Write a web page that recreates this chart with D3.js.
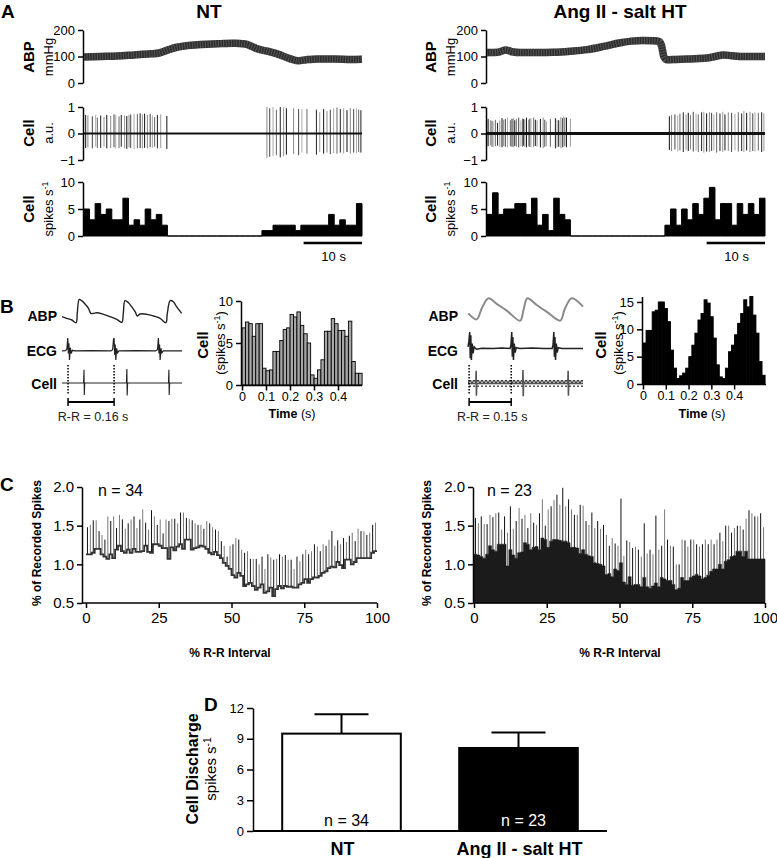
<!DOCTYPE html>
<html><head><meta charset="utf-8">
<script src="https://cdn.jsdelivr.net/npm/d3@7"></script>
<style>
body{margin:0;background:#fff;}
</style></head><body>
<svg id="fig" width="777" height="858" xmlns="http://www.w3.org/2000/svg"></svg>
<script>
// ================= DATA =================
// Panel A - arterial blood pressure trend (time s, mmHg)
const abpTimeNT = [0,3,6,9,12,13.5,15,16.5,18.5,21,24,27,29,30.2,31,33,35,37,38.5,40,42,45,48,50];
const abpNT     = [98,100,102,106,110,113,124,134,141,145,148,150,147,138,130,120,108,92,84,88,91,91,89,90];
const abpTimeHT = [0,2,3.3,4.5,6,9,12,15,18,21,24,26,28,30,31,31.4,31.8,32.3,34,36.5,39.5,41,42.5,44,46,48,50];
const abpHT     = [115,116,125,118,115,115,116,120,126,138,152,158,160,159,156,140,100,88,89,91,94,100,106,103,100,100,100];
// Panel A - single unit spikes [time s, up a.u., down a.u.]
const cellSpikesNT = [
 [0.3,0.70,-0.55],[0.7,0.68,-0.52],[1.5,0.65,-0.56],[2.1,0.70,-0.50],[2.4,0.60,-0.55],[3.0,0.68,-0.54],[3.6,0.62,-0.50],
 [4.1,0.70,-0.56],[4.8,0.66,-0.55],[5.4,0.72,-0.52],[5.7,0.70,-0.57],[6.3,0.65,-0.55],[6.7,0.70,-0.50],[7.3,0.68,-0.56],
 [7.7,0.66,-0.58],[8.1,0.70,-0.52],[8.4,0.72,-0.55],[9.0,0.75,-0.58],[9.6,0.74,-0.56],[10.1,0.76,-0.55],[10.5,0.72,-0.57],
 [10.9,0.75,-0.54],[11.4,0.70,-0.56],[11.9,0.74,-0.52],[12.3,0.68,-0.55],[12.7,0.62,-0.50],[13.2,0.70,-0.56],[13.8,0.72,-0.55],[14.9,0.66,-0.58],
 [32.9,1.00,-0.92],[33.4,0.95,-0.88],[34.0,1.00,-0.85],[34.6,0.90,-0.82],[35.3,1.00,-0.90],[35.9,0.98,-0.86],[36.4,0.95,-0.80],
 [37.7,0.95,-0.78],[38.6,0.92,-0.82],[39.2,0.92,-0.72],[40.1,0.92,-0.76],[41.8,0.90,-0.80],[42.4,0.80,-0.70],[43.1,0.92,-0.76],
 [43.7,0.85,-0.72],[44.3,0.90,-0.78],[44.9,0.95,-0.74],[45.5,0.98,-0.76],[46.1,0.92,-0.72],[46.7,0.95,-0.75],[47.3,0.88,-0.70],
 [47.9,0.95,-0.76],[48.5,0.92,-0.72],[49.0,0.95,-0.74],[49.4,0.90,-0.70],[49.8,0.88,-0.72]
];
const cellSpikesHT = [
 [0.2,0.55,-0.48],[0.6,0.50,-0.45],[0.9,0.48,-0.50],[1.1,0.45,-0.52],[1.5,0.52,-0.48],[1.9,0.40,-0.46],[2.3,0.50,-0.50],[2.7,0.58,-0.52],
 [3.0,0.52,-0.47],[3.3,0.55,-0.50],[3.7,0.60,-0.52],[4.2,0.50,-0.48],[4.5,0.56,-0.50],[4.8,0.58,-0.53],[5.0,0.50,-0.47],[5.3,0.55,-0.50],
 [5.7,0.60,-0.52],[6.1,0.50,-0.48],[6.4,0.56,-0.50],[6.6,0.55,-0.46],[6.8,0.52,-0.50],[7.1,0.60,-0.52],[7.5,0.52,-0.49],[7.7,0.56,-0.50],
 [7.9,0.58,-0.52],[8.4,0.60,-0.50],[8.7,0.52,-0.47],[9.0,0.50,-0.50],[9.6,0.55,-0.52],[10.1,0.60,-0.55],[10.4,0.52,-0.50],[10.7,0.45,-0.48],
 [11.4,0.55,-0.50],[12.3,0.58,-0.56],[12.6,0.52,-0.52],[12.9,0.50,-0.50],[13.3,0.62,-0.55],[13.6,0.58,-0.52],[13.8,0.65,-0.50],[14.0,0.60,-0.48],
 [14.3,0.60,-0.52],[15.0,0.55,-0.50],
 [32.8,0.65,-0.62],[33.2,0.70,-0.66],[33.8,0.72,-0.60],[34.3,0.68,-0.68],[34.7,0.75,-0.64],[35.3,0.80,-0.70],[35.8,0.72,-0.62],[36.2,0.78,-0.66],
 [36.6,0.70,-0.60],[37.1,0.82,-0.68],[37.6,0.75,-0.64],[38.0,0.72,-0.70],[38.6,0.80,-0.66],[39.0,0.82,-0.72],[39.5,0.76,-0.68],[40.0,0.80,-0.70],
 [40.4,0.78,-0.66],[40.8,0.72,-0.64],[41.3,0.80,-0.72],[41.9,0.76,-0.66],[42.4,0.82,-0.70],[42.8,0.72,-0.64],[43.4,0.80,-0.66],[44.0,0.78,-0.70],
 [44.6,0.74,-0.64],[45.2,0.80,-0.68],[45.8,0.76,-0.66],[46.2,0.85,-0.70],[46.7,0.78,-0.64],[47.3,0.82,-0.70],[47.8,0.76,-0.66],[48.2,0.80,-0.68],
 [48.8,0.78,-0.64],[49.4,0.80,-0.70],[49.8,0.76,-0.66]
];
// Panel A - firing rate histograms (1-s bins, spikes/s)
const histNT = [5,3,6,4,5,3,3,7,2,3,2,5,3,4,2,0,0,0,0,0,0,0,0,0,0,0,0,0,0,0,0,0,1,1,2,2,2,2,1,2,2,2,2,2,4,2,3,2,2,6];
const histHT = [4,8,4,5,5,6,6,4,7,2,4,1,7,4,3,0,0,0,0,0,0,0,0,0,0,0,0,0,0,0,0,0,2,5,2,5,3,6,4,7,9,3,6,6,2,6,4,6,4,7];

// Panel B - raw traces (time s)
const bAbpNT = [[0,95.8],[0.016,91.7],[0.034,87.5],[0.049,80.8],[0.053,104],[0.060,139],[0.068,135.8],[0.080,127.5],[0.092,116.7],[0.100,104],
 [0.109,104],[0.121,105.8],[0.144,101.7],[0.167,95.8],[0.190,89.2],[0.208,81.7],[0.213,104],[0.219,135.8],[0.231,130.8],[0.242,120.8],
 [0.254,108.3],[0.262,97.5],[0.271,102.5],[0.295,101.7],[0.318,97.5],[0.341,91.7],[0.361,80.8],[0.366,104],[0.376,135.8],[0.387,133.3],
 [0.398,120.8],[0.416,104]];
const bEcgNT = [[0,0],[0.012,0.02],[0.017,0.15],[0.020,1.0],[0.022,-0.2],[0.024,0.6],[0.026,-0.7],[0.029,0.25],[0.032,-0.2],[0.036,0.05],
 [0.045,0],[0.10,0.02],[0.17,0],[0.176,0.1],[0.179,0.9],[0.181,1.0],[0.183,-0.3],[0.185,0.5],[0.187,-0.7],[0.190,0.2],[0.193,-0.15],
 [0.198,0],[0.26,0.02],[0.325,0],[0.332,0.1],[0.335,1.0],[0.337,-0.2],[0.339,0.5],[0.341,-0.7],[0.344,0.2],[0.347,-0.15],[0.352,0],[0.417,0]];
const bCellNT = [[0,0],[0.075,0],[0.0765,0.95],[0.0775,-0.85],[0.079,0],[0.224,0],[0.2255,1.0],[0.2265,-0.9],[0.228,0],
 [0.370,0],[0.3715,0.95],[0.3725,-0.85],[0.374,0],[0.417,0]];
const bAbpHT = [[0.001,104],[0.031,89],[0.05,118],[0.073,142],[0.102,128],[0.138,111],[0.186,86],[0.198,113],[0.212,142],[0.245,125],
 [0.281,108],[0.329,86],[0.345,115],[0.37,142],[0.41,121]];
const bEcgHT = [[0,0.1],[0.003,0.4],[0.006,1.0],[0.008,-0.6],[0.010,0.8],[0.012,-0.7],[0.015,0.3],[0.018,-0.3],[0.022,0.1],[0.03,-0.05],
 [0.05,0.02],[0.09,0],[0.12,0.03],[0.15,0],[0.153,0.2],[0.156,1.0],[0.158,-0.5],[0.160,0.7],[0.162,-0.7],[0.165,0.3],[0.168,-0.25],
 [0.172,0.05],[0.185,0],[0.23,0.03],[0.27,0],[0.30,0],[0.303,0.2],[0.306,1.0],[0.308,-0.5],[0.310,0.7],[0.312,-0.7],[0.315,0.3],
 [0.318,-0.25],[0.322,0.05],[0.335,0],[0.41,0]];
const bCellHT = [[0,0],[0.028,0],[0.029,0.95],[0.030,-0.9],[0.031,0],[0.195,0],[0.196,1.0],[0.197,-0.95],[0.198,0],
 [0.356,0],[0.357,0.95],[0.358,-0.9],[0.359,0],[0.41,0]];
const rrNT = [0.021, 0.181];
const rrHT = [0.004, 0.154];
const rrLabels = ["R-R = 0.16 s", "R-R = 0.15 s"];
// Panel B - cardiac-cycle triggered histograms (spikes/s)
const bHistNT = [6.8,7.5,7.3,5.8,7.3,7.3,2.0,1.7,1.8,4.0,4.0,5.3,6.6,6.8,8.4,8.1,8.7,7.1,6.1,5.0,1.2,0.8,1.8,3.0,6.4,6.4,7.9,7.3,6.5,6.5,5.8,7.6,2.8,1.4,1.4];
const bHistNTBin = 0.0143;
const bHistHT = [7.5,9.8,9.8,13.2,13.5,15.0,15.0,13.8,11.4,6.2,2.9,1.0,1.5,2.0,2.9,5.0,7.1,9.3,11.7,12.9,15.4,14.8,12.3,8.4,3.5,1.3,1.0,2.9,5.9,7.1,9.0,11.1,12.9,15.4,14.1,16.0,12.6,9.3,4.1,1.6];
const bHistHTBin = 0.0134;
const timeTicks = [0,0.1,0.2,0.3,0.4];

// Panel C - % of recorded spikes per 1% R-R bin (mean and mean+SEM)
const cMeanNT = [1.13,1.13,1.15,1.20,1.20,1.13,1.10,1.07,1.13,1.08,1.19,1.24,1.17,1.15,1.19,1.15,1.20,1.16,1.16,1.17,
 1.24,1.16,1.15,1.26,1.26,1.24,1.21,1.21,1.07,1.22,1.18,1.23,1.26,1.20,1.32,1.32,1.19,1.21,1.22,1.24,
 1.23,1.20,1.15,1.13,1.16,1.12,1.08,1.02,0.98,0.94,0.86,0.83,0.89,0.85,0.72,0.74,0.76,0.72,0.67,0.70,
 0.74,0.63,0.65,0.70,0.59,0.68,0.72,0.69,0.72,0.71,0.71,0.70,0.70,0.74,0.76,0.81,0.76,0.81,0.83,0.83,
 0.85,0.89,0.91,0.95,0.97,0.96,1.03,0.99,0.95,1.06,1.06,1.00,1.03,1.08,1.08,1.08,1.08,1.08,1.15,1.17];
const cTopNT = [1.48,1.51,1.57,1.57,1.43,1.38,1.32,1.62,1.56,1.62,1.47,1.64,1.58,1.46,1.53,1.58,1.62,1.47,1.58,1.71,
 1.54,1.45,1.70,1.62,1.51,1.58,1.40,1.58,1.56,1.59,1.59,1.53,1.67,1.67,1.60,1.59,1.57,1.53,1.51,1.51,
 1.46,1.56,1.53,1.48,1.45,1.43,1.30,1.24,1.10,1.24,1.26,1.34,1.32,1.19,1.15,1.17,1.07,1.07,1.07,1.00,
 1.10,0.94,1.13,1.09,1.06,1.07,1.13,1.10,1.12,1.06,1.06,0.94,1.10,1.04,1.13,1.19,1.13,1.17,1.26,1.23,
 1.17,1.26,1.24,1.32,1.43,1.24,1.31,1.26,1.34,1.29,1.37,1.41,1.30,1.46,1.43,1.43,1.38,1.41,1.51,1.54];
const cMeanHT = [1.13,1.12,1.10,1.08,1.13,1.24,1.19,1.17,1.26,1.26,1.26,0.98,1.19,1.12,1.08,1.15,1.16,1.28,1.26,1.19,
 1.22,1.23,1.19,1.34,1.32,1.22,1.30,1.32,1.32,1.31,1.30,1.30,1.28,1.22,1.22,1.21,1.14,1.19,1.13,1.11,
 1.10,1.02,1.01,1.00,0.98,0.87,0.88,0.84,0.94,0.92,1.02,0.77,0.74,0.84,0.73,0.74,0.74,0.71,0.83,0.71,
 0.69,0.72,0.76,0.71,0.83,0.81,0.79,0.79,0.74,0.67,0.69,0.83,0.79,0.79,0.83,0.85,0.87,0.85,0.81,0.83,
 0.86,0.91,0.94,0.94,1.00,0.94,1.04,1.06,1.10,1.11,1.17,1.17,1.10,1.17,1.07,1.07,1.07,1.07,1.07,1.07];
const cTopHT = [1.60,1.53,1.62,1.52,1.52,1.64,1.61,1.66,1.67,1.45,1.62,1.41,1.75,1.46,1.56,1.73,1.59,1.64,1.47,1.66,
 1.54,1.51,1.66,1.84,1.50,1.71,1.75,1.83,1.90,1.77,1.99,1.75,1.84,1.71,1.64,1.64,1.77,1.76,1.56,1.51,
 1.67,1.47,1.56,1.46,1.51,1.38,1.24,1.34,1.27,1.24,1.85,1.11,1.31,1.29,1.21,1.23,1.19,1.10,1.53,1.14,
 1.19,1.13,1.63,1.19,1.24,1.71,1.32,1.24,1.23,1.00,1.00,1.32,1.31,1.23,1.32,1.32,1.26,1.23,1.26,1.32,
 1.26,1.32,1.26,1.32,1.41,1.30,1.50,1.50,1.41,1.47,1.50,1.50,1.45,1.59,1.70,1.66,1.62,1.62,1.66,1.48];
const cN = ["n = 34", "n = 23"];
const cTicksY = [0.5,1.0,1.5,2.0];
const cTicksX = [0,25,50,75,100];

// Panel D - mean cell discharge
const dGroups = ["NT", "Ang II - salt HT"];
const dMean = [9.5, 8.1];
const dSem  = [1.9, 1.5];
const dN = ["n = 34", "n = 23"];
const dTicks = [0,3,6,9,12];

// ================= DRAWING =================
const FONT = "Arial, 'Liberation Sans', Helvetica, sans-serif";
const svg = d3.select("#fig");
const defs = svg.append("defs");
const pat = defs.append("pattern").attr("id","zig").attr("width",4).attr("height",7).attr("patternUnits","userSpaceOnUse");
pat.append("path").attr("d","M0,6 L2,1 L4,6").attr("stroke","#333").attr("stroke-width",1.2).attr("fill","none");

function addText(g, x, y, s, size, o = {}) {
  const t = g.append("text").attr("x", x).attr("y", y).attr("font-size", size)
    .attr("font-family", FONT).attr("fill", o.fill || "#000").attr("text-anchor", o.anchor || "start");
  if (o.bold) t.attr("font-weight", "bold");
  t.text(s);
  return t;
}
function rotLabel(g, cx, cy, parts, size) {
  const t = g.append("text").attr("transform", `translate(${cx},${cy}) rotate(-90)`)
    .attr("text-anchor", "middle").attr("dy", "0.35em").attr("font-size", size).attr("font-family", FONT);
  parts.forEach(p => {
    const s = t.append("tspan").text(p.t);
    if (p.bold) s.attr("font-weight", "bold");
    if (p.sup) s.attr("baseline-shift", "super").attr("font-size", size * 0.68);
  });
  return t;
}
function styleAxis(a, size) {
  a.select(".domain").attr("stroke", "#000").attr("stroke-width", 1.5);
  a.selectAll(".tick line").attr("stroke", "#000").attr("stroke-width", 1.5);
  a.selectAll(".tick text").attr("font-size", size).attr("font-family", FONT).attr("fill", "#000");
}
function yAxis(g, scale, x, ticks, size, fmt, tsz = 5) {
  const ax = d3.axisLeft(scale).tickValues(ticks).tickSize(tsz).tickSizeOuter(0).tickPadding(3);
  if (fmt) ax.tickFormat(fmt);
  const a = g.append("g").attr("transform", `translate(${x},0)`).call(ax);
  styleAxis(a, size);
  return a;
}
function xAxis(g, scale, y, ticks, size, fmt, x0, pad = 4) {
  const ax = d3.axisBottom(scale).tickValues(ticks).tickSize(5).tickSizeOuter(0).tickPadding(pad);
  if (fmt) ax.tickFormat(fmt);
  const a = g.append("g").attr("transform", `translate(0,${y})`).call(ax);
  styleAxis(a, size);
  if (x0 !== undefined) {
    a.select(".domain").remove();
    g.append("line").attr("x1", x0).attr("x2", scale.range()[1]).attr("y1", y).attr("y2", y)
      .attr("stroke", "#000").attr("stroke-width", 1.5);
  }
  return a;
}
const spikeShades = ["#111", "#888", "#444", "#aaa", "#666", "#222", "#999"];

// ---------- Panel A ----------
addText(svg, 1, 18, "A", 19, {bold: true});
const panelsA = [
  {x0: 83, x1: 362, l1: 29, l2: 48, abpT: abpTimeNT, abp: abpNT, spikes: cellSpikesNT, hist: histNT, title: "NT", tx: 209, base: 2},
  {x0: 486, x1: 765, l1: 431, l2: 450, abpT: abpTimeHT, abp: abpHT, spikes: cellSpikesHT, hist: histHT, title: "Ang II - salt HT", tx: 620, base: 3.2}
];
panelsA.forEach(p => {
  const g = svg.append("g");
  const ts = d3.scaleLinear().domain([0, 50]).range([p.x0 + 1, p.x1]);
  const yA = d3.scaleLinear().domain([0, 200]).range([83, 30]);
  const yC = d3.scaleLinear().domain([-1, 1]).range([160, 107]);
  const yH = d3.scaleLinear().domain([0, 10]).range([236, 182]);
  addText(g, p.tx, 18, p.title, 19, {bold: true, anchor: "middle"});
  // ABP band
  const abpPts = p.abpT.map((t, i) => [t, p.abp[i]]);
  const ln = d3.line().x(d => ts(d[0])).y(d => yA(d[1])).curve(d3.curveMonotoneX);
  g.append("path").datum(abpPts).attr("d", ln).attr("fill", "none").attr("stroke", "#2e2e2e").attr("stroke-width", 7.5);
  g.append("path").datum(abpPts).attr("d", ln).attr("fill", "none").attr("stroke", "#777")
    .attr("stroke-width", 7.5).attr("stroke-dasharray", "1,1.6").attr("opacity", 0.55);
  yAxis(g, yA, p.x0, [0, 100, 200], 13);
  rotLabel(g, p.l1, 57, [{t: "ABP", bold: true}], 15);
  rotLabel(g, p.l2, 57, [{t: "mmHg"}], 13);
  // Cell raw trace
  g.selectAll(".spk").data(p.spikes).enter().append("line")
    .attr("x1", d => ts(d[0])).attr("x2", d => ts(d[0]))
    .attr("y1", d => yC(d[2])).attr("y2", d => yC(d[1]))
    .attr("stroke", (d, i) => spikeShades[i % spikeShades.length]).attr("stroke-width", 1);
  g.append("line").attr("x1", ts(0)).attr("x2", ts(50)).attr("y1", yC(0)).attr("y2", yC(0))
    .attr("stroke", "#111").attr("stroke-width", p.base);
  yAxis(g, yC, p.x0, [-1, 0, 1], 13, d => d3.format("d")(d));
  rotLabel(g, p.l1, 133, [{t: "Cell", bold: true}], 15);
  rotLabel(g, p.l2, 133, [{t: "a.u."}], 13);
  // Histogram
  const hp = p.hist.map((v, i) => [i, v]).concat([[p.hist.length, p.hist[p.hist.length - 1]]]);
  g.append("path").datum(hp)
    .attr("d", d3.area().x(d => ts(d[0])).y0(yH(0)).y1(d => yH(d[1])).curve(d3.curveStepAfter))
    .attr("fill", "#000").attr("stroke", "#000").attr("stroke-width", 1);
  yAxis(g, yH, p.x0, [0, 5, 10], 13);
  rotLabel(g, p.l1, 209, [{t: "Cell", bold: true}], 15);
  rotLabel(g, p.l2, 209, [{t: "spikes  s"}, {t: "-1", sup: true}], 13);
  // scale bar
  g.append("line").attr("x1", ts(39.5)).attr("x2", ts(50)).attr("y1", 243).attr("y2", 243)
    .attr("stroke", "#000").attr("stroke-width", 2.5);
  addText(g, ts(44.9), 261, "10 s", 13, {anchor: "middle"});
});

// ---------- Panel B ----------
addText(svg, 0, 313, "B", 19, {bold: true});
const panelsB = [
  {tx0: 62, tx1: 182, td: 0.417, lblX: 57, abp: bAbpNT, abpCol: "#222", ecg: bEcgNT, ecgY: [360, 338], cell: bCellNT,
   cellY: [397, 369], rr: rrNT, rrLbl: rrLabels[0], noise: false,
   hist: bHistNT, bin: bHistNTBin, hx0: 242, hx1: 362, hd: 0.5, hy: [385, 301], hmax: 10, hticks: [0, 5, 10],
   hfill: "#a6a6a6", hstroke: "#000", axX: 241, l1: 203, l2: 220, ttl: 292},
  {tx0: 468, tx1: 583, td: 0.41, lblX: 458, abp: bAbpHT, abpCol: "#8a8a8a", ecg: bEcgHT, ecgY: [360, 332], cell: bCellHT,
   cellY: [397, 370], rr: rrHT, rrLbl: rrLabels[1], noise: true,
   hist: bHistHT, bin: bHistHTBin, hx0: 643, hx1: 766, hd: 0.54, hy: [384, 296.5], hmax: 16, hticks: [0, 5, 10, 15],
   hfill: "#000", hstroke: "#000", axX: 642, l1: 601, l2: 618, ttl: 702}
];
panelsB.forEach(p => {
  const g = svg.append("g");
  const ts = d3.scaleLinear().domain([0, p.td]).range([p.tx0, p.tx1]);
  const yAbp = d3.scaleLinear().domain([80, 140]).range([323, 299]);
  const yEcg = d3.scaleLinear().domain([-0.7, 1]).range(p.ecgY);
  const yCell = d3.scaleLinear().domain([-1, 1]).range(p.cellY);
  addText(g, p.lblX, 321, "ABP", 14, {bold: true, anchor: "end"});
  addText(g, p.lblX, 356, "ECG", 14, {bold: true, anchor: "end"});
  addText(g, p.lblX, 389, "Cell", 14, {bold: true, anchor: "end"});
  g.append("path").datum(p.abp).attr("d", d3.line().x(d => ts(d[0])).y(d => yAbp(d[1])).curve(d3.curveCatmullRom))
    .attr("fill", "none").attr("stroke", p.abpCol).attr("stroke-width", p.noise ? 2 : 1.4);
  g.append("path").datum(p.ecg).attr("d", d3.line().x(d => ts(d[0])).y(d => yEcg(d[1])))
    .attr("fill", "none").attr("stroke", "#222").attr("stroke-width", p.noise ? 1.5 : 1.2);
  if (p.noise) {
    g.append("rect").attr("x", ts(0)).attr("y", yCell(0) - 3.5).attr("width", ts(p.td) - ts(0)).attr("height", 7)
      .attr("fill", "url(#zig)");
  }
  g.append("path").datum(p.cell).attr("d", d3.line().x(d => ts(d[0])).y(d => yCell(d[1])))
    .attr("fill", "none").attr("stroke", p.noise ? "#555" : "#222").attr("stroke-width", p.noise ? 1.6 : 1.1);
  // R-R markers
  p.rr.forEach(t => {
    g.append("line").attr("x1", ts(t)).attr("x2", ts(t)).attr("y1", 365).attr("y2", 394)
      .attr("stroke", "#000").attr("stroke-width", 1.5).attr("stroke-dasharray", "1.5,1.5");
    g.append("line").attr("x1", ts(t)).attr("x2", ts(t)).attr("y1", 398).attr("y2", 406)
      .attr("stroke", "#000").attr("stroke-width", 1.5);
  });
  g.append("line").attr("x1", ts(p.rr[0])).attr("x2", ts(p.rr[1])).attr("y1", 402).attr("y2", 402)
    .attr("stroke", "#000").attr("stroke-width", 1.8);
  addText(g, (ts(p.rr[0]) + ts(p.rr[1])) / 2 + 2, 421, p.rrLbl, 12.5, {anchor: "middle", fill: "#222"});
  // histogram
  const hx = d3.scaleLinear().domain([0, p.hd]).range([p.hx0, p.hx1]);
  const hy = d3.scaleLinear().domain([0, p.hmax]).range(p.hy);
  g.selectAll(".hb").data(p.hist).enter().append("rect")
    .attr("x", (d, i) => hx(i * p.bin)).attr("width", hx(p.bin) - hx(0))
    .attr("y", d => hy(d)).attr("height", d => hy(0) - hy(d))
    .attr("fill", p.hfill).attr("stroke", p.hstroke).attr("stroke-width", 0.9);
  yAxis(g, hy, p.axX, p.hticks, 13);
  xAxis(g, hx, hy(0) + 0.5, timeTicks, 12.5, d => d === 0 ? "0" : String(d), p.axX, 2);
  rotLabel(g, p.l1, 345, [{t: "Cell", bold: true}], 15);
  rotLabel(g, p.l2, 343, [{t: "(spikes  s"}, {t: "-1", sup: true}, {t: ")"}], 13);
  const tt = g.append("text").attr("x", p.ttl).attr("y", 418).attr("text-anchor", "middle")
    .attr("font-size", 12.5).attr("font-family", FONT);
  tt.append("tspan").attr("font-weight", "bold").text("Time");
  tt.append("tspan").text(" (s)");
});

// ---------- Panel C ----------
addText(svg, 0, 491, "C", 19, {bold: true});
const panelsC = [
  {axX: 82, x0: 86, x1: 377, mean: cMeanNT, top: cTopNT, filled: false, n: cN[0], nx: 98, l1: 37, xl: 230},
  {axX: 473, x0: 474, x1: 765, mean: cMeanHT, top: cTopHT, filled: true, n: cN[1], nx: 487, l1: 427, xl: 620}
];
panelsC.forEach(p => {
  const g = svg.append("g");
  const xs = d3.scaleLinear().domain([0, 100]).range([p.x0, p.x1]);
  const ys = d3.scaleLinear().domain([0.5, 2.0]).range([603, 487]);
  const pts = p.mean.map((v, i) => [i, v]).concat([[p.mean.length, p.mean[p.mean.length - 1]]]);
  g.selectAll(".eb").data(p.mean).enter().append("line")
    .attr("x1", (d, i) => xs(i + 0.5)).attr("x2", (d, i) => xs(i + 0.5))
    .attr("y1", d => ys(d)).attr("y2", (d, i) => ys(p.top[i]))
    .attr("stroke", (d, i) => i % 2 ? "#7a7a7a" : "#111").attr("stroke-width", 1);
  if (p.filled) {
    g.append("path").datum(pts)
      .attr("d", d3.area().x(d => xs(d[0])).y0(ys(0.5)).y1(d => ys(d[1])).curve(d3.curveStepAfter))
      .attr("fill", "#1b1b1b").attr("stroke", "#1b1b1b").attr("stroke-width", 0.6);
  } else {
    g.append("path").datum(pts)
      .attr("d", d3.line().x(d => xs(d[0])).y(d => ys(d[1])).curve(d3.curveStepAfter))
      .attr("fill", "none").attr("stroke", "#333").attr("stroke-width", 1.8);
  }
  yAxis(g, ys, p.axX, cTicksY, 15, d3.format(".1f"));
  xAxis(g, xs, 603, cTicksX, 15, d3.format("d"), p.axX);
  addText(g, p.nx, 496, p.n, 16);
  rotLabel(g, p.l1, 543, [{t: "% of Recorded Spikes", bold: true}], 12);
  addText(g, p.xl, 657, "% R-R Interval", 12, {bold: true, anchor: "middle"});
});

// ---------- Panel D ----------
{
  const g = svg.append("g");
  addText(g, 204, 711, "D", 19, {bold: true});
  const ys = d3.scaleLinear().domain([0, 12]).range([831, 708]);
  const xb = d3.scaleBand().domain(dGroups).range([253, 607]).paddingInner(0.33).paddingOuter(0.165);
  const fills = ["#fff", "#000"];
  const txtFill = ["#000", "#fff"];
  dGroups.forEach((grp, i) => {
    const cx = xb(grp) + xb.bandwidth() / 2;
    g.append("line").attr("x1", cx).attr("x2", cx).attr("y1", ys(dMean[i])).attr("y2", ys(dMean[i] + dSem[i]))
      .attr("stroke", "#000").attr("stroke-width", 2);
    g.append("line").attr("x1", cx - 27).attr("x2", cx + 27).attr("y1", ys(dMean[i] + dSem[i])).attr("y2", ys(dMean[i] + dSem[i]))
      .attr("stroke", "#000").attr("stroke-width", 2);
    g.append("rect").attr("x", xb(grp)).attr("width", xb.bandwidth())
      .attr("y", ys(dMean[i])).attr("height", ys(0) - ys(dMean[i]))
      .attr("fill", fills[i]).attr("stroke", "#000").attr("stroke-width", 2);
    addText(g, cx + 5, 826, dN[i], 16, {anchor: "middle", fill: txtFill[i]});
    addText(g, cx + 1, 855, grp, 18, {anchor: "middle", bold: true});
  });
  yAxis(g, ys, 253, dTicks, 13, null, 6);
  g.append("line").attr("x1", 253).attr("x2", 607).attr("y1", ys(0)).attr("y2", ys(0)).attr("stroke", "#000").attr("stroke-width", 1.8);
  rotLabel(g, 192, 769, [{t: "Cell Discharge", bold: true}], 16);
  rotLabel(g, 211, 769, [{t: "spikes  s"}, {t: "-1", sup: true}], 15);
}
</script>
</body></html>
